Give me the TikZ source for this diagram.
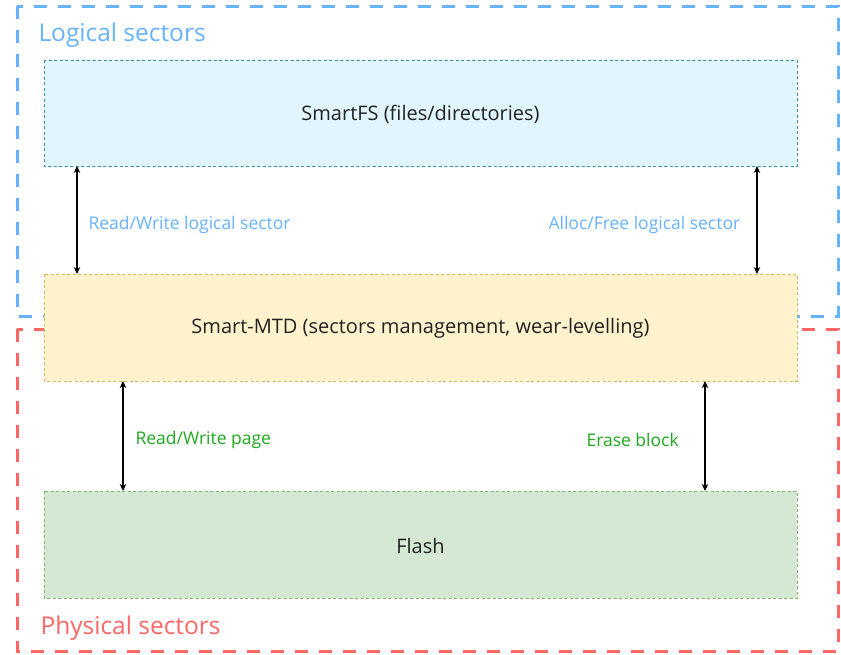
\documentclass[tikz,border=0pt]{standalone}
\usepackage{fontspec}
\setmainfont{Open Sans}
\usetikzlibrary{arrows.meta}
\definecolor{lblue}{HTML}{66B2FF}
\definecolor{lred}{HTML}{FF6666}
\definecolor{fsfill}{HTML}{E1F5FE}
\definecolor{fsdraw}{HTML}{3A8FA8}
\definecolor{mtdfill}{HTML}{FFF2CC}
\definecolor{mtddraw}{HTML}{D6B656}
\definecolor{flfill}{HTML}{D5E8D4}
\definecolor{fldraw}{HTML}{82B366}
\definecolor{lgreen}{HTML}{1EA81E}
\definecolor{txt}{HTML}{222222}
\begin{document}
\begin{tikzpicture}[x=1pt,y=-1pt,
  zone/.style={line width=3pt,dash pattern=on 13pt off 11pt},
  layer/.style={line width=1pt,dash pattern=on 3pt off 2.5pt,font=\fontsize{20}{24}\selectfont,text=txt},
  link/.style={line width=1.2pt,{Stealth[length=7pt,width=6.5pt]}-{Stealth[length=7pt,width=6.5pt]}},
  lab/.style={font=\fontsize{17.5}{21}\selectfont,anchor=west},
  title/.style={font=\fontsize{24.5}{29}\selectfont,anchor=west}]
\useasboundingbox (0,0) rectangle (841,654);
% sector zones
\draw[zone,lblue] (17,6) rectangle (838,316);
\draw[zone,lred] (17,329) rectangle (838,651);
\node[title,text=lblue] (tl) at (35,35) {Logical sectors};
\node[title,text=lred] (tp) at (37,628) {Physical sectors};
% layers
\path[layer,draw=fsdraw,fill=fsfill] (44,60) rectangle (797,166);
\node[layer,draw=none] (fs) at (420.5,114) {SmartFS (files/directories)};
\path[layer,draw=mtddraw,fill=mtdfill] (44,274) rectangle (797,381);
\node[layer,draw=none] (mtd) at (420.5,328) {Smart-MTD (sectors management, wear-levelling)};
\path[layer,draw=fldraw,fill=flfill] (44,491) rectangle (797,598);
\node[layer,draw=none] (fl) at (420.5,546) {Flash};
% interface coordinates on layer edges
\coordinate (a1) at (77,166); \coordinate (a2) at (77,274);
\coordinate (b1) at (757,166); \coordinate (b2) at (757,274);
\coordinate (c1) at (123,381); \coordinate (c2) at (123,491);
\coordinate (d1) at (705,381); \coordinate (d2) at (705,491);
\draw[link] (a1) -- (a2);
\draw[link] (b1) -- (b2);
\draw[link] (c1) -- (c2);
\draw[link] (d1) -- (d2);
\node[lab,text=lblue] (la) at (85,225) {Read/Write logical sector};
\node[lab,text=lblue] (lb) at (545,225) {Alloc/Free logical sector};
\node[lab,text=lgreen] (lc) at (132,440) {Read/Write page};
\node[lab,text=lgreen] (ld) at (583,440) {Erase block};
\end{tikzpicture}
\end{document}
